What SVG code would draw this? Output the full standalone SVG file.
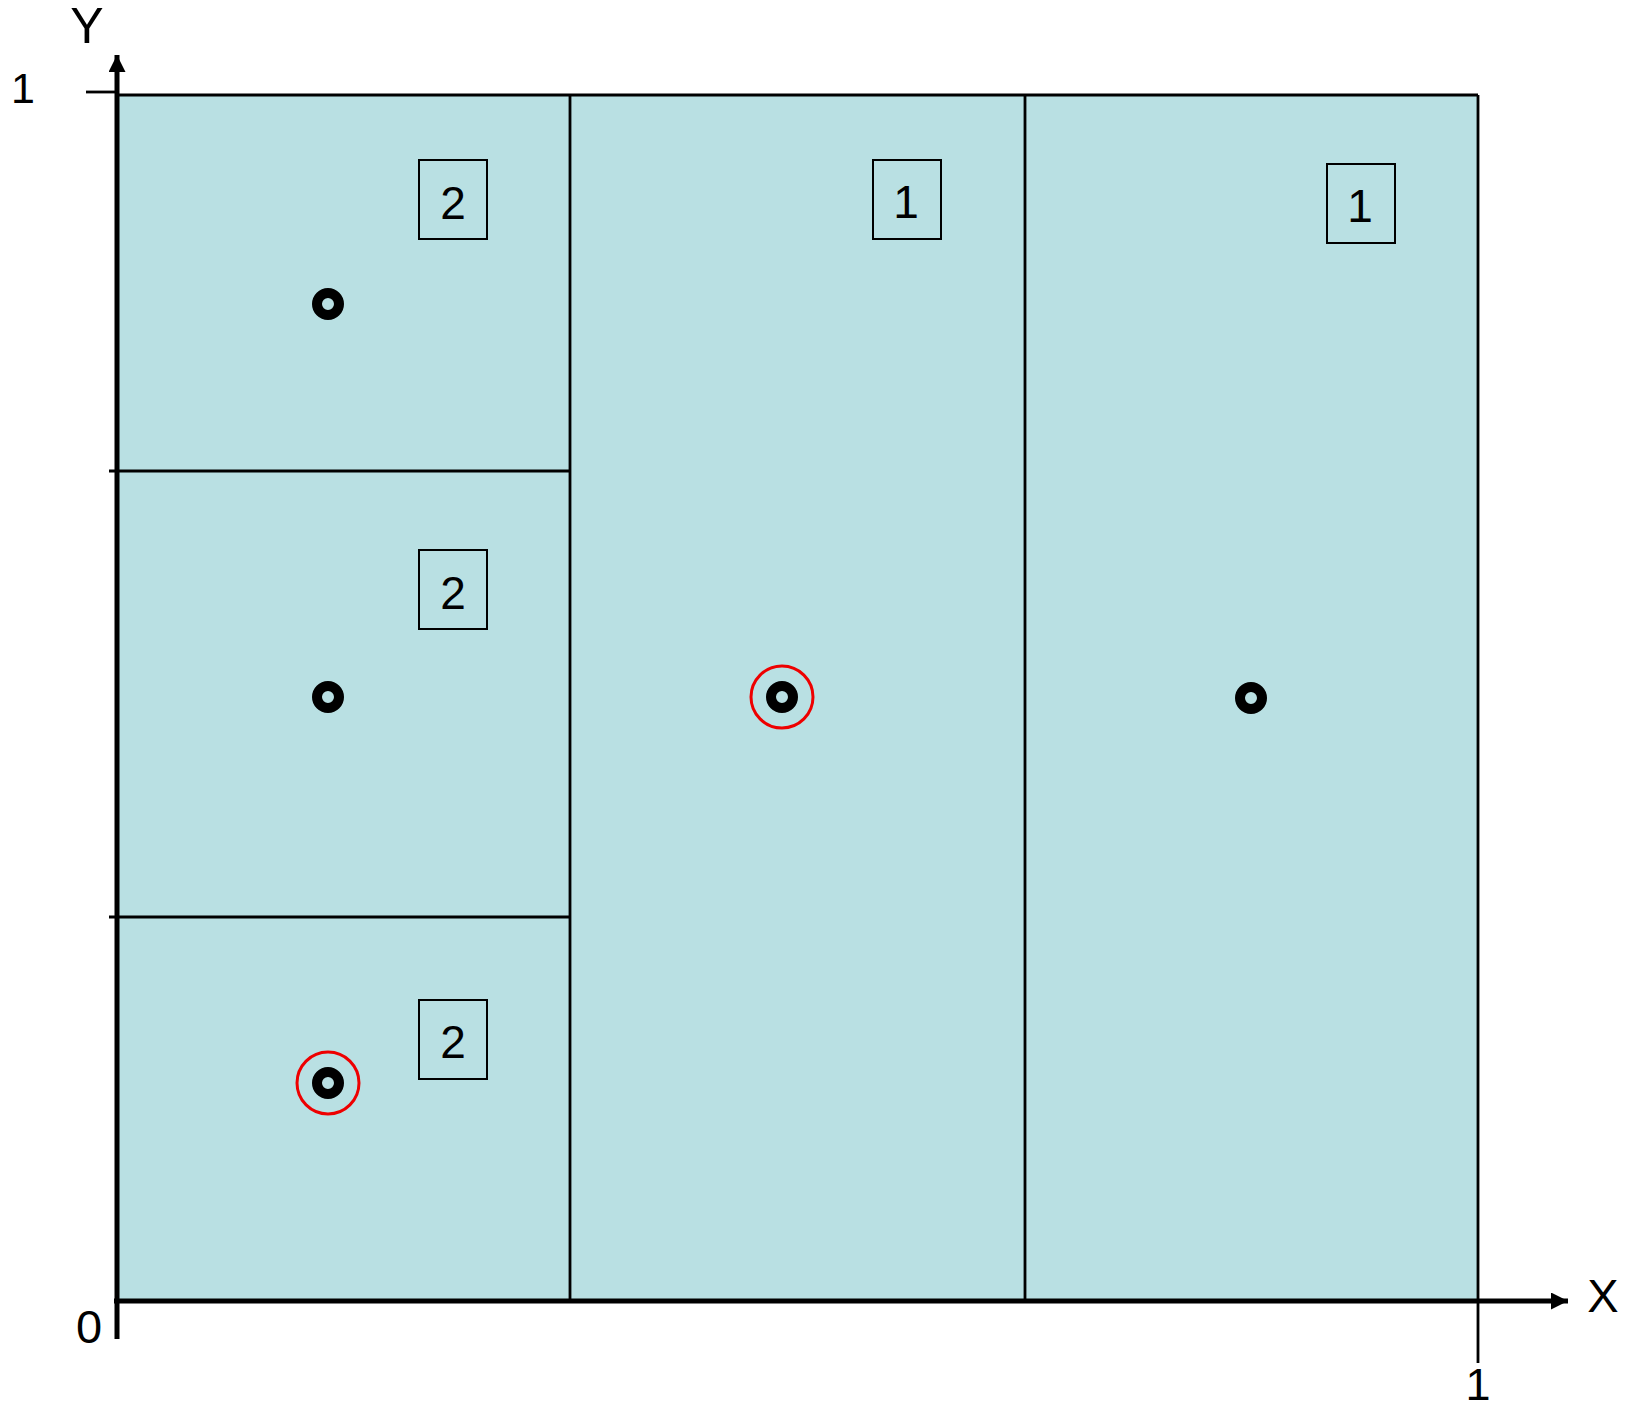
<svg xmlns="http://www.w3.org/2000/svg" width="1633" height="1409" viewBox="0 0 1633 1409">
<style>
.lbl{font-family:"Liberation Sans",Arial,sans-serif;fill:#000}
.box{fill:none;stroke:#000;stroke-width:2}
.ln{stroke:#000;stroke-width:2.8;fill:none}
.dot{fill:none;stroke:#000;stroke-width:10}
.sel{fill:none;stroke:#e00;stroke-width:3}
</style>
<defs>
<marker id="ah" viewBox="0 0 10 10" refX="10" refY="5" markerWidth="3.4" markerHeight="3.4" orient="auto" markerUnits="strokeWidth">
<path d="M0,0 L10,5 L0,10 z" fill="#000"/>
</marker>
</defs>
<rect x="117" y="95" width="1361" height="1206" fill="#B9E0E3"/>
<g id="grid">
<line class="ln" x1="117" y1="95" x2="1478" y2="95"/>
<line class="ln" x1="1478" y1="95" x2="1478" y2="1363"/>
<line class="ln" x1="570" y1="95" x2="570" y2="1301"/>
<line class="ln" x1="1025" y1="95" x2="1025" y2="1301"/>
<line class="ln" x1="109" y1="471" x2="570" y2="471"/>
<line class="ln" x1="109" y1="917" x2="570" y2="917"/>
<line class="ln" x1="86" y1="92" x2="117" y2="92" stroke-width="1.5"/>
</g>
<g id="axes">
<line x1="117" y1="1339" x2="117" y2="55" stroke="#000" stroke-width="5" marker-end="url(#ah)"/>
<line x1="114" y1="1301" x2="1568" y2="1301" stroke="#000" stroke-width="5" marker-end="url(#ah)"/>
<text class="lbl" x="87" y="43" font-size="50" text-anchor="middle">Y</text>
<text class="lbl" x="1603" y="1312" font-size="47" text-anchor="middle">X</text>
<text class="lbl" x="23" y="103" font-size="43" text-anchor="middle">1</text>
<text class="lbl" x="89" y="1343" font-size="47" text-anchor="middle">0</text>
<text class="lbl" x="1478" y="1400" font-size="45" text-anchor="middle">1</text>
</g>
<g id="box-a"><rect class="box" x="419" y="160" width="68" height="79"/><text class="lbl" x="453" y="219" font-size="46" text-anchor="middle">2</text></g>
<g id="box-b"><rect class="box" x="419" y="550" width="68" height="79"/><text class="lbl" x="453" y="609" font-size="46" text-anchor="middle">2</text></g>
<g id="box-c"><rect class="box" x="419" y="1000" width="68" height="79"/><text class="lbl" x="453" y="1058" font-size="46" text-anchor="middle">2</text></g>
<g id="box-d"><rect class="box" x="873" y="160" width="68" height="79"/><text class="lbl" x="906" y="218" font-size="46" text-anchor="middle">1</text></g>
<g id="box-e"><rect class="box" x="1327" y="164" width="68" height="79"/><text class="lbl" x="1360" y="222" font-size="46" text-anchor="middle">1</text></g>
<g id="pt1"><circle class="dot" cx="328" cy="304" r="11"/></g>
<g id="pt2"><circle class="dot" cx="328" cy="697" r="11"/></g>
<g id="pt3"><circle class="dot" cx="328" cy="1083" r="11"/><circle class="sel" cx="328" cy="1083" r="31"/></g>
<g id="pt4"><circle class="dot" cx="782" cy="697" r="11"/><circle class="sel" cx="782" cy="697" r="31"/></g>
<g id="pt5"><circle class="dot" cx="1251" cy="698" r="11"/></g>
</svg>
